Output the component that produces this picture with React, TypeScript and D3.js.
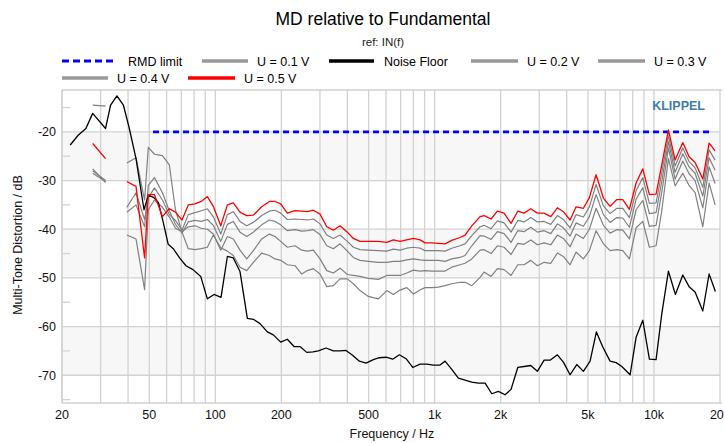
import React from 'react';
import * as d3 from 'd3';

// ---------- data ----------
const FREQ_U = [27.6, 31.6, 35.6, 39.5, 43.5, 47.6, 49.5, 52.8, 57.4, 61.7, 65.8, 70.5, 75.3, 80.8, 86.3, 92.0, 97.9, 105.9, 113.5, 120.8,
  129.6, 139.1, 149.1, 162.8, 176.3, 187.2, 198.7, 213.0, 231.0, 247.7, 262.8, 279.9, 300.3, 322.2, 345.3, 370.5, 400.0, 425.9, 457.1, 498.6,
  553.9, 604.8, 648.2, 695.3, 746.3, 799.7, 857.8, 904.2, 970.4, 1039.8, 1115.6, 1196.9, 1305.8, 1376.3, 1476.8, 1611.4,
  1680.8, 1808.9, 1932.1, 2072.6, 2230.6, 2393.4, 2557.2, 2743.8, 2940.6, 3155.4, 3385, 3627.4, 3863.4, 4144.8, 4414.6, 4766.6,
  5076, 5446, 5880, 6308, 6769, 7209, 7726, 8289, 8892, 9530, 10223, 10853, 11638, 12482, 13534, 14456, 15399, 16696, 17838, 18998];

const U05 = [-22.4, -25.5, null,
  -30.2, -31.2, -45.9, -32.9, -32.9, -37.4, -35.8, -36.5, -38.1, -35.0, -34.8, -34.3, -33.3, -35.3, -39.3, -35.0, -34.6,
  -36.5, -37.2, -37.1, -35.4, -34.3, -34.3, -34.8, -36.7, -36.2, -36.3, -36.4, -36.1, -36.9, -39.5, -40.2, -39.3, -40.6, -41.9, -42.5, -42.5,
  -42.5, -42.7, -42.2, -42.5, -42.2, -41.9, -42.2, -42.8, -42.8, -42.9, -43.0, -42.3, -41.7, -41.2, -39.3, -37.4,
  -37.2, -37.9, -36.3, -36.7, -38.8, -36.3, -36.7, -35.8, -36.7, -36.7, -37.4, -35.6, -36.4, -38.1, -35.4, -35.7,
  -33.5, -28.8, -33.6, -35.3, -33.9, -33.9, -35.9, -30.5, -27.6, -32.9, -32.8, -26.8, -19.6, -25.8, -22.2, -25.1, -26.3, -29.7, -22.3, -23.9];

const U04 = [-28.5, -30.2, null,
  -35.5, -32.5, -38.0, -33.5, -31.5, -34.0, -37.0, -38.2, -40.2, -37.0, -36.6, -36.2, -35.8, -37.4, -41.0, -37.0, -36.4,
  -38.4, -39.3, -38.6, -37.2, -36.3, -36.1, -36.7, -38.0, -37.9, -38.0, -38.1, -37.9, -38.9, -41.2, -41.9, -41.2, -42.5, -43.7, -44.2, -44.3,
  -44.4, -44.5, -44.1, -44.3, -43.9, -43.7, -43.9, -44.4, -44.4, -44.4, -44.5, -43.9, -43.4, -43.0, -41.3, -39.5,
  -39.2, -39.9, -38.3, -38.7, -40.6, -38.2, -38.5, -37.6, -38.5, -38.4, -39.0, -37.2, -38.0, -39.7, -37.0, -37.5,
  -35.4, -30.8, -35.2, -36.8, -35.7, -35.7, -37.6, -32.1, -29.4, -34.7, -34.6, -28.4, -20.8, -27.0, -23.3, -26.1, -27.4, -31.4, -23.7, -25.8];

const U03 = [-28.0, -30.0, null,
  -36.5, -35.0, -39.5, -31.0, -29.4, -32.5, -36.2, -39.0, -40.8, -38.5, -38.2, -38.4, -38.0, -39.2, -42.5, -39.0, -38.4,
  -40.6, -41.5, -40.6, -39.1, -38.1, -38.4, -39.1, -40.3, -40.1, -40.4, -40.3, -40.1, -41.1, -43.4, -44.0, -43.0, -44.5, -45.8, -46.4, -46.6,
  -46.8, -46.8, -46.6, -46.6, -46.3, -46.1, -46.3, -46.4, -46.4, -46.4, -46.6, -46.1, -45.8, -45.4, -43.4, -41.3,
  -41.4, -42.1, -40.5, -40.9, -42.7, -40.3, -40.5, -39.6, -40.6, -40.3, -40.9, -38.9, -39.7, -41.4, -38.7, -39.4,
  -37.4, -32.9, -37.0, -38.6, -37.6, -37.7, -39.6, -33.8, -31.5, -36.8, -36.6, -30.2, -22.0, -28.3, -24.5, -27.2, -28.5, -33.2, -25.3, -27.9];

const U02 = [-27.6, -30.4, null,
  -41.2, -42.0, -52.4, -36.0, -34.0, -35.5, -37.5, -39.8, -40.5, -39.5, -39.3, -39.8, -40.0, -41.0, -44.3, -41.5, -42.0,
  -44.3, -46.1, -44.4, -42.0, -41.0, -41.5, -42.5, -43.7, -43.4, -44.3, -44.5, -44.3, -46.1, -48.5, -49.0, -48.0, -49.3, -49.5, -49.7, -50.1,
  -50.3, -49.5, -49.5, -49.5, -49.0, -48.4, -48.6, -48.5, -48.6, -48.6, -48.6, -47.8, -47.3, -47.0, -46.1, -44.3,
  -44.2, -45.0, -43.4, -43.7, -45.2, -42.9, -43.1, -42.2, -43.2, -42.8, -43.2, -41.2, -41.9, -43.6, -41.0, -41.9,
  -40.0, -35.7, -39.2, -40.8, -40.1, -40.2, -42.0, -36.0, -34.1, -39.4, -39.2, -32.4, -23.3, -29.7, -26.0, -28.6, -30.0, -35.6, -27.2, -30.6];

const U01 = [-14.5, -14.7, null,
  -26.4, -25.3, -34.0, -23.2, -24.6, -24.9, -26.8, -36.0, -40.6, -44.0, -44.2, -44.0, -43.7, -41.2, -43.8, -44.5, -45.4,
  -47.8, -48.5, -46.8, -44.9, -45.4, -46.1, -46.4, -47.3, -47.5, -49.2, -48.5, -48.1, -49.2, -51.8, -51.6, -50.2, -50.2, -51.2, -52.6, -53.8,
  -54.3, -52.6, -53.4, -52.5, -52.0, -53.3, -52.5, -52.0, -52.0, -51.9, -51.6, -51.2, -50.9, -50.9, -51.6, -49.9,
  -48.8, -49.7, -48.1, -48.3, -49.5, -47.3, -47.3, -46.4, -47.5, -46.8, -47.0, -44.9, -45.6, -47.3, -44.7, -46.1,
  -44.4, -40.3, -43.0, -44.4, -44.2, -44.4, -46.1, -39.7, -38.4, -43.7, -43.4, -36.2, -25.5, -31.1, -28.5, -31.0, -32.5, -39.5, -30.5, -35.0];

const FREQ_NF = [21.8, 23.7, 25.7, 27.6, 31.6, 33.3, 35.6, 38.1, 40.4, 43.5, 47.3, 49.5, 52.5, 55.0, 57.9, 61.0, 64.3, 69.0, 73.5, 79.1,
  85.8, 92.0, 98.7, 106.2, 113.5, 120.8, 129.6, 140.0, 149.1, 159.9, 172.7, 183.9, 198.7, 213.0, 228.5, 243.3, 261.1, 279.0, 295.0, 319.8,
  345.3, 370.5, 394.5, 422.4, 453.8, 486.7, 525.5, 559.7, 600.4, 644.1, 690.3, 740.8, 794.7, 857.8, 920.5, 986.4, 1058.5, 1115.6, 1196.9, 1282.7,
  1376.3, 1476.8, 1582.9, 1698.5, 1822.2, 1952.4, 2094.6, 2230.6, 2393.4, 2557.2, 2743.8, 2940.6, 3155.4, 3360.2, 3627.4, 3863.4, 4144.8, 4447, 4766.6, 5113.6,
  5463.6, 5843.4, 6308.4, 6719.6, 7133.8, 7783.4, 8288.8, 8892.4, 9530.2, 10223, 10853, 11638, 12522, 13534, 14456, 15399, 16696, 17838, 19058];

const NOISE = [-22.7, -20.7, -19.3, -16.2, -19.3, -14.5, -12.6, -14.5, -19.0, -25.5, -36.0, -33.0, -33.5, -34.5, -38.6, -43.1, -44.0, -46.0, -47.5, -48.3,
  -49.7, -54.3, -53.4, -54.0, -45.6, -45.9, -48.7, -58.3, -58.5, -59.4, -61.1, -61.7, -63.2, -62.6, -64.1, -64.1, -65.3, -65.2, -65.0, -64.4,
  -65.0, -65.0, -64.9, -65.9, -67.1, -67.5, -66.8, -66.4, -66.3, -66.7, -65.8, -66.6, -68.4, -67.7, -67.7, -67.9, -67.9, -67.1, -68.8, -70.6,
  -71.0, -71.4, -71.6, -71.6, -73.8, -73.3, -74.0, -72.9, -68.4, -68.2, -68.0, -69.2, -66.9, -66.9, -65.8, -67.3, -69.9, -67.8, -69.2, -67.1,
  -61.1, -64.2, -67.1, -67.4, -68.2, -69.9, -62.2, -58.7, -66.7, -66.8, -57.4, -48.6, -53.4, -49.4, -51.8, -52.9, -56.8, -49.2, -52.8];

const RMD_FREQ = [52, 18300];
const RMD_VAL = [-20, -20];

const Y_TICKS = [-20, -30, -40, -50, -60, -70];
const Y_MINOR = [-15, -25, -35, -45, -55, -65, -75];
const X_LABELS = [20, 50, 100, 200, 500, 1000, 2000, 5000, 10000, 20000];
const X_LABEL_TEXT = ['20', '50', '100', '200', '500', '1k', '2k', '5k', '10k', '20k'];
const BANDS = [[-30, -20], [-50, -40], [-70, -60]];

const FONT = "'Liberation Sans', Arial, Helvetica, sans-serif";
const GRAY = '#808080';
const W = 724;
const H = 443;

export default function App() {
  const x = d3.scaleLog().domain([20, 20000]).range([62, 720]);
  const y = d3.scaleLinear().domain([-75.7, -11.4]).range([403, 90]);
  const L = 62, R = 720, T = 90, B = 403;

  const mk = (fs: number[], vs: (number | null)[]) => {
    const pts = fs.map((f, i) => [f, vs[i]] as [number, number | null]);
    return d3.line<[number, number | null]>()
      .defined(d => d[1] !== null && d[1] !== undefined)
      .x(d => x(d[0]))
      .y(d => y(d[1] as number))(pts) || '';
  };

  const grid = x.ticks();

  const legend1 = [
    { x1: 62, x2: 115, tx: 128, label: 'RMD limit', color: '#0000ff', dash: '7 4', w: 3 },
    { x1: 202, x2: 248, tx: 257, label: 'U = 0.1 V', color: '#999999', dash: '', w: 3.5 },
    { x1: 329, x2: 374, tx: 384, label: 'Noise Floor', color: '#000000', dash: '', w: 3.5 },
    { x1: 471, x2: 518, tx: 527, label: 'U = 0.2 V', color: '#999999', dash: '', w: 3.5 },
    { x1: 598, x2: 645, tx: 654, label: 'U = 0.3 V', color: '#999999', dash: '', w: 3.5 },
  ];
  const legend2 = [
    { x1: 62, x2: 108, tx: 117, label: 'U = 0.4 V', color: '#999999', dash: '', w: 3.5 },
    { x1: 188, x2: 235, tx: 244, label: 'U = 0.5 V', color: '#ff0000', dash: '', w: 3.5 },
  ];

  return (
    <svg width={W} height={H} style={{ position: 'absolute', left: 0, top: 0, background: '#fff' }} fontFamily={FONT}>
      <rect x={0} y={0} width={W} height={H} fill="#fff" />
      <text x={383} y={25} textAnchor="middle" fontSize={17.5} fill="#000">MD relative to Fundamental</text>
      <text x={383} y={46} textAnchor="middle" fontSize={11.5} fill="#222">ref: IN(f)</text>

      {legend1.map((d, i) => (
        <g key={'l1' + i}>
          <line x1={d.x1} x2={d.x2} y1={61} y2={61} stroke={d.color} strokeWidth={d.w} strokeDasharray={d.dash || undefined} />
          <text x={d.tx} y={65.5} fontSize={12.5} fill="#000">{d.label}</text>
        </g>
      ))}
      {legend2.map((d, i) => (
        <g key={'l2' + i}>
          <line x1={d.x1} x2={d.x2} y1={78} y2={78} stroke={d.color} strokeWidth={d.w} />
          <text x={d.tx} y={82.5} fontSize={12.5} fill="#000">{d.label}</text>
        </g>
      ))}

      {BANDS.map((b, i) => (
        <rect key={'b' + i} x={L} width={R - L} y={y(b[1])} height={y(b[0]) - y(b[1])} fill="#f7f7f7" />
      ))}
      {grid.map((g, i) => (
        <line key={'gx' + i} x1={x(g)} x2={x(g)} y1={T} y2={B} stroke="#d2d2d2" strokeWidth={1.3} />
      ))}
      {Y_TICKS.map((t, i) => (
        <line key={'gy' + i} x1={L} x2={R} y1={y(t)} y2={y(t)} stroke="#d2d2d2" strokeWidth={1.3} />
      ))}
      {Y_MINOR.map((t, i) => (
        <line key={'my' + i} x1={L} x2={L + 8} y1={y(t)} y2={y(t)} stroke="#d2d2d2" strokeWidth={1.3} />
      ))}
      <line x1={L} x2={R + 2} y1={T} y2={T} stroke="#d2d2d2" strokeWidth={1.5} />
      <line x1={L} x2={L} y1={T} y2={B} stroke="#d2d2d2" strokeWidth={1.5} />
      <line x1={L} x2={R + 2} y1={B} y2={B} stroke="#d2d2d2" strokeWidth={1.5} />

      <path d={mk(RMD_FREQ, RMD_VAL)} fill="none" stroke="#0000ff" strokeWidth={2.6} strokeDasharray="6 4" />

      {[U01, U02, U03, U04].map((s, i) => (
        <path key={'u' + i} d={mk(FREQ_U, s)} fill="none" stroke={GRAY} strokeWidth={1.2} strokeLinejoin="round" />
      ))}
      <path d={mk(FREQ_NF, NOISE)} fill="none" stroke="#000" strokeWidth={1.3} strokeLinejoin="round" />
      <path d={mk(FREQ_U, U05)} fill="none" stroke="#ff0000" strokeWidth={1.3} strokeLinejoin="round" />

      <text x={705} y={110} textAnchor="end" fontSize={12.5} fontWeight="bold" fill="#3d7dab">KLIPPEL</text>

      {Y_TICKS.map((t, i) => (
        <text key={'yt' + i} x={56} y={y(t) + 4.5} textAnchor="end" fontSize={12.5} fill="#111">{t}</text>
      ))}
      {X_LABELS.map((f, i) => (
        <text key={'xt' + i} x={x(f)} y={419} textAnchor="middle" fontSize={12.5} fill="#111">{X_LABEL_TEXT[i]}</text>
      ))}
      <text x={392} y={438} textAnchor="middle" fontSize={12.5} fill="#111">Frequency / Hz</text>
      <text transform="translate(22,245) rotate(-90)" textAnchor="middle" fontSize={12.5} fill="#111">Multi-Tone Distortion / dB</text>
    </svg>
  );
}
